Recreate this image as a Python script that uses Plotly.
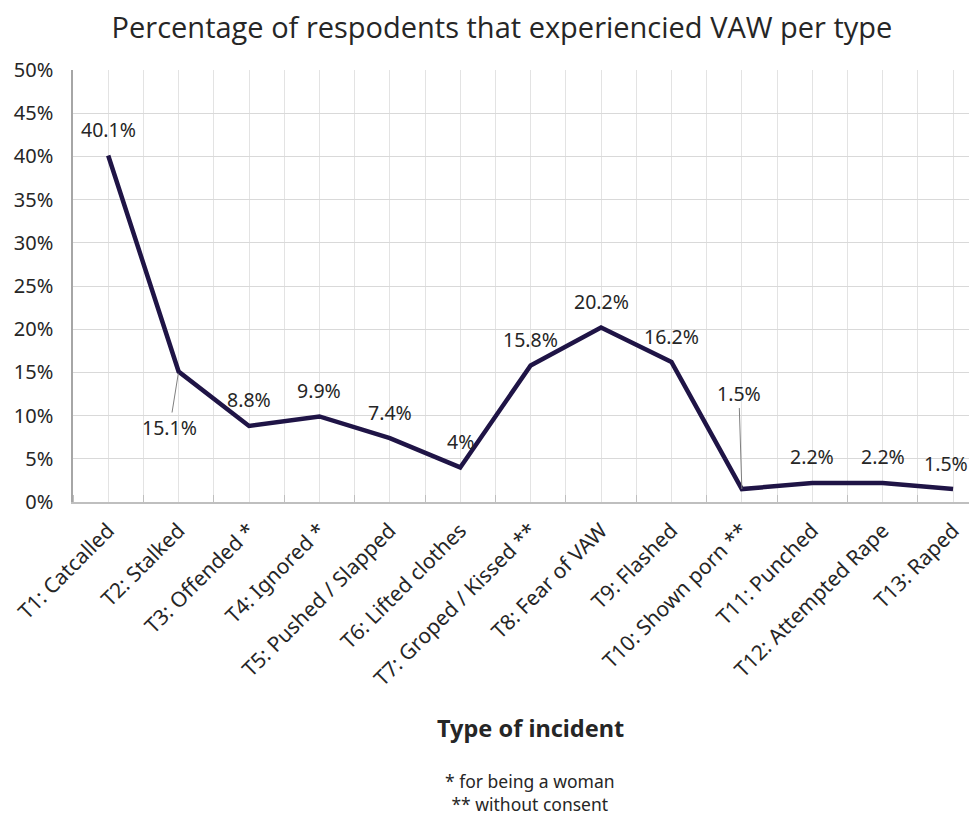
import plotly.graph_objects as go

categories = ["T1: Catcalled", "T2: Stalked", "T3: Offended *", "T4: Ignored *",
              "T5: Pushed / Slapped", "T6: Lifted clothes", "T7: Groped / Kissed **",
              "T8: Fear of VAW", "T9: Flashed", "T10: Shown porn **", "T11: Punched",
              "T12: Attempted Rape", "T13: Raped"]
values = [40.1, 15.1, 8.8, 9.9, 7.4, 4.0, 15.8, 20.2, 16.2, 1.5, 2.2, 2.2, 1.5]
value_labels = ["40.1%", "15.1%", "8.8%", "9.9%", "7.4%", "4%", "15.8%", "20.2%",
                "16.2%", "1.5%", "2.2%", "2.2%", "1.5%"]
y_ticks = [0, 5, 10, 15, 20, 25, 30, 35, 40, 45, 50]
y_tick_labels = [f"{v}%" for v in y_ticks]

xpos = list(range(len(categories)))
FONT = "Noto Sans"
TXT = "#262626"

# page offset of the body (8px) compensated in the figure size/margins
W, H = 969, 807
ML, MT, MR = 65, 62, 0
MB = H - (502 - 8)
PW = W - ML - MR
PH = (502 - 8) - MT


def px_to_paper(px, py):
    return ((px - 8 - ML) / PW, ((502 - 8) - (py - 8)) / PH)


fig = go.Figure()
fig.add_trace(go.Scatter(x=xpos, y=values, mode="lines",
                         line=dict(color="#1f1446", width=4.5), hoverinfo="skip"))

annotations = []
for i, (v, lab) in enumerate(zip(values, value_labels)):
    if i == 1:
        annotations.append(dict(x=i, y=v, xref="x", yref="y", text=lab, showarrow=True,
                                arrowhead=0, arrowwidth=1, arrowcolor="#7f7f7f",
                                ax=-9, ay=56, standoff=2,
                                font=dict(family=FONT, size=19.5, color=TXT)))
    elif i == 9:
        annotations.append(dict(x=i, y=v, xref="x", yref="y", text=lab, showarrow=True,
                                arrowhead=0, arrowwidth=1, arrowcolor="#7f7f7f",
                                ax=-3, ay=-96, standoff=0,
                                font=dict(family=FONT, size=19.5, color=TXT)))
    elif i == len(values) - 1:
        annotations.append(dict(x=i, y=v, xref="x", yref="y", text=lab, showarrow=False,
                                yshift=26, xshift=-7,
                                font=dict(family=FONT, size=19.5, color=TXT)))
    else:
        annotations.append(dict(x=i, y=v, xref="x", yref="y", text=lab, showarrow=False,
                                yshift=26, font=dict(family=FONT, size=19.5, color=TXT)))

tx, ty = px_to_paper(530, 728)
annotations.append(dict(x=tx, y=ty, xref="paper", yref="paper",
                        text="<b>Type of incident</b>", showarrow=False,
                        xanchor="center", yanchor="middle",
                        font=dict(family=FONT, size=23.5, color=TXT)))
fx, fy = px_to_paper(530, 792)
annotations.append(dict(x=fx, y=fy, xref="paper", yref="paper",
                        text="* for being a woman<br>** without consent", showarrow=False,
                        xanchor="center", yanchor="middle",
                        font=dict(family=FONT, size=17.5, color=TXT)))

boundaries = [i + 0.5 for i in range(-1, len(categories))]

fig.update_layout(
    width=W, height=H,
    margin=dict(l=ML, r=MR, t=MT, b=MB, autoexpand=False),
    paper_bgcolor="white", plot_bgcolor="white",
    showlegend=False,
    title=dict(text="Percentage of respodents that experiencied VAW per type",
               x=(502 - 8) / W, xanchor="center", y=1 - (28 - 8) / H, yanchor="middle",
               font=dict(family="Open Sans", size=29, color=TXT)),
    annotations=annotations,
    xaxis=dict(range=[-0.5, 12.34], tickmode="array", tickvals=xpos, ticktext=categories,
               tickangle=-45, tickfont=dict(family=FONT, size=21, color=TXT),
               showgrid=True, gridcolor="#e3e3e3", gridwidth=1,
               showline=True, linecolor="#bfbfbf", linewidth=2, ticks="",
               zeroline=False, ticklabelstandoff=6, automargin=False,
               minor=dict(tickmode="array", tickvals=boundaries, showgrid=True,
                          gridcolor="#e3e3e3", gridwidth=1, ticks="inside",
                          ticklen=7, tickcolor="#bfbfbf", tickwidth=1)),
    yaxis=dict(range=[0, 50], tickmode="array", tickvals=y_ticks, ticktext=y_tick_labels,
               tickfont=dict(family=FONT, size=20, color=TXT),
               showgrid=True, gridcolor="#d9d9d9", gridwidth=1,
               showline=True, linecolor="#a6a6a6", linewidth=1.5,
               zeroline=False, ticks="", ticklabelstandoff=14, automargin=False),
)

fig.write_html("out.html")
